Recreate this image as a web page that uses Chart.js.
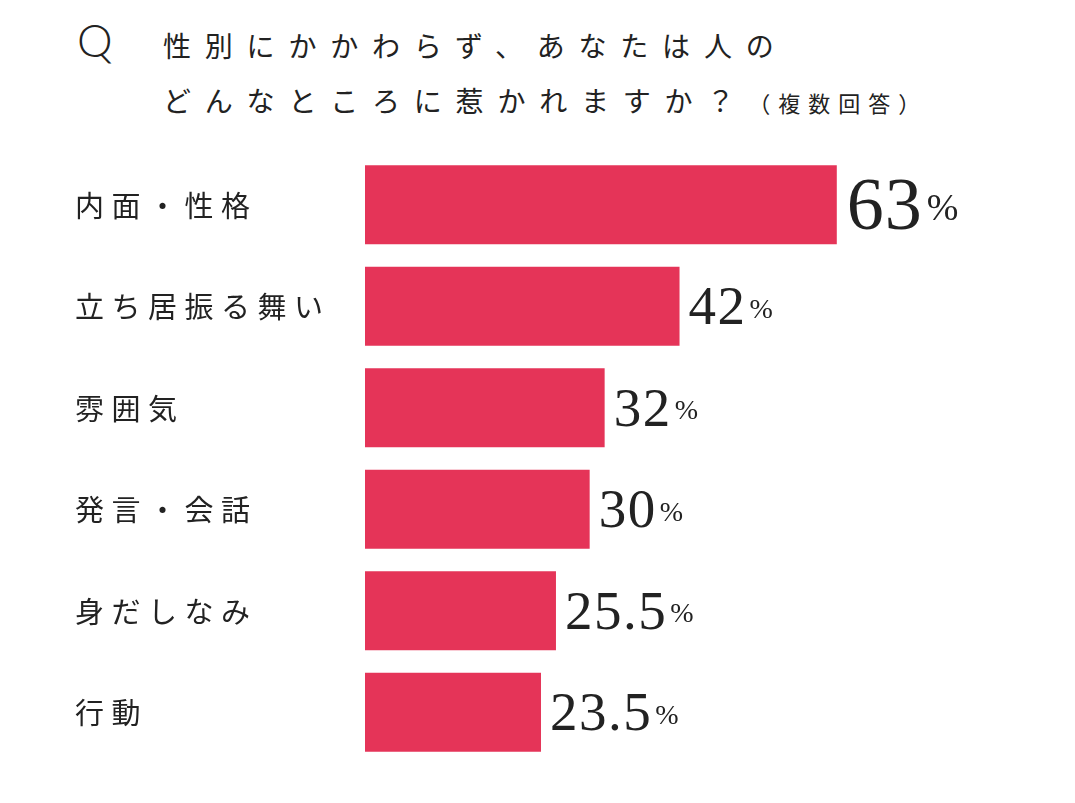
<!DOCTYPE html>
<html lang="ja">
<head>
<meta charset="utf-8">
<title>惹かれるところ</title>
<script src="https://cdn.jsdelivr.net/npm/chart.js@4.4.1/dist/chart.umd.min.js"></script>
<style>
  html, body { margin: 0; padding: 0; background: #fff; }
  .wrap { position: relative; width: 1075px; height: 803px; overflow: hidden; }
  #chart { position: absolute; left: 0; top: 0; }
  .q {
    position: absolute; left: 77px; top: 18px;
    font-family: Lato, "Noto Sans", sans-serif; font-weight: 300;
    font-size: 45px; color: #222; line-height: 1;
  }
  .title {
    position: absolute; left: 163px;
    font-family: "Noto Sans CJK JP", sans-serif; font-weight: 400;
    font-size: 28px; letter-spacing: 13.8px; color: #222; line-height: 1;
    white-space: nowrap;
  }
  .title small { font-size: 22px; letter-spacing: 8px; }
</style>
</head>
<body>
<div class="wrap">
  <div class="q">Q</div>
  <div class="title" style="top:31px">性別にかかわらず、あなたは人の</div>
  <div class="title" style="top:86px">どんなところに惹かれますか？<small>（複数回答）</small></div>
  <canvas id="chart" width="1075" height="803"></canvas>
</div>
<script>
const categories = ["内面・性格", "立ち居振る舞い", "雰囲気", "発言・会話", "身だしなみ", "行動"];
const values = [63, 42, 32, 30, 25.5, 23.5];
const valueLabels = ["63", "42", "32", "30", "25.5", "23.5"];

const barColor = "rgb(229, 52, 88)";
const textColor = "#222";

// draws category names on the left and the percentages after each bar
const labelPlugin = {
  id: "labels",
  afterDatasetsDraw(chart) {
    const ctx = chart.ctx;
    const meta = chart.getDatasetMeta(0);
    ctx.save();
    meta.data.forEach(function (bar, i) {
      const y = bar.y;

      ctx.fillStyle = textColor;
      ctx.textAlign = "left";
      ctx.textBaseline = "middle";
      ctx.font = "400 29px 'Noto Sans CJK JP', sans-serif";
      ctx.letterSpacing = "7.5px";
      ctx.fillText(categories[i], 75, y + 1);

      const big = i === 0;
      const numSize = big ? 74 : 55;
      const pctSize = big ? 38 : 28;
      const base = y + numSize * 0.33;
      ctx.textBaseline = "alphabetic";
      ctx.font = numSize + "px 'Liberation Serif', serif";
      ctx.letterSpacing = big ? "1px" : "1.5px";
      const x0 = bar.x + (big ? 10 : 9);
      ctx.fillText(valueLabels[i], x0, base);
      const w = ctx.measureText(valueLabels[i]).width;
      ctx.font = pctSize + "px 'Liberation Serif', serif";
      ctx.letterSpacing = "0px";
      ctx.fillText("%", x0 + w + (big ? 4 : 3), base - numSize * 0.12);
    });
    ctx.restore();
  }
};

const ctx1 = document.getElementById("chart").getContext("2d");
const chart1 = new Chart(ctx1, {
  type: "bar",
  data: {
    labels: categories,
    datasets: [
      {
        data: values,
        backgroundColor: barColor,
        borderWidth: 0,
        barPercentage: 1,
        categoryPercentage: 0.778,
      },
    ],
  },
  options: {
    indexAxis: "y",
    responsive: false,
    animation: false,
    devicePixelRatio: 1,
    layout: { padding: { left: 365, right: 36, top: 154, bottom: 40 } },
    scales: {
      x: { min: 0, max: 90, display: false },
      y: { display: false },
    },
    plugins: {
      legend: { display: false },
      tooltip: { enabled: false },
    },
  },
  plugins: [labelPlugin],
});
</script>
</body>
</html>
